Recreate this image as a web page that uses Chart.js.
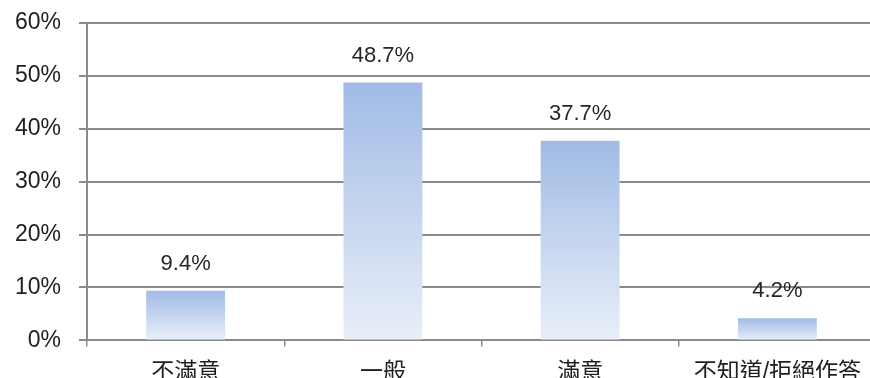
<!DOCTYPE html>
<html>
<head>
  <title>滿意度</title>
  <meta charset="utf-8">
  <script src="https://cdn.jsdelivr.net/npm/chart.js@4.4.0/dist/chart.umd.min.js"></script>
  <style>
    html, body { margin: 0; padding: 0; overflow: hidden; background: #fff; }
    #myChart { display: block; margin-top: -9px; }
  </style>
</head>
<body>
<canvas id="myChart" width="876" height="407"></canvas>
<script>
  var categories = ['不滿意', '一般', '滿意', '不知道/拒絕作答'];
  var percents = [9.4, 48.7, 37.7, 4.2];
  var yTicks = [0, 10, 20, 30, 40, 50, 60];

  var fontFamily = '"Liberation Sans", Arial, "Noto Sans CJK TC", sans-serif';
  var gridColor = '#8a8a8a';

  // gradient per bar: darker blue on top, fading to pale at the base
  function barFill(context) {
    var chart = context.chart;
    if (!chart.chartArea) return '#b7c9ea';
    var y = chart.scales.y;
    var top = y.getPixelForValue(context.raw);
    var base = y.getPixelForValue(0);
    if (base - top < 1) top = base - 1;
    var g = chart.ctx.createLinearGradient(0, top, 0, base);
    g.addColorStop(0, '#a1bbe5');
    g.addColorStop(1, '#e9eff9');
    return g;
  }

  var valueLabels = {
    id: 'valueLabels',
    afterDatasetsDraw: function(chart) {
      var ctx = chart.ctx;
      var meta = chart.getDatasetMeta(0);
      ctx.save();
      ctx.font = '22px ' + fontFamily;
      ctx.fillStyle = '#262626';
      ctx.textAlign = 'center';
      ctx.textBaseline = 'middle';
      meta.data.forEach(function(bar, i) {
        ctx.fillText(percents[i].toFixed(1) + '%', bar.x, bar.y - 27);
      });
      ctx.restore();
    }
  };

  var ctx = document.getElementById('myChart').getContext('2d');
  var chart = new Chart(ctx, {
    type: 'bar',
    data: {
      labels: categories,
      datasets: [{
        data: percents,
        backgroundColor: barFill,
        borderWidth: 0,
        barPercentage: 0.4,
        categoryPercentage: 1
      }]
    },
    options: {
      responsive: false,
      animation: false,
      layout: { padding: { left: -3, top: -3, right: 0, bottom: 0 } },
      scales: {
        x: {
          grid: {
            display: true,
            drawOnChartArea: false,
            drawTicks: true,
            tickLength: 6,
            color: gridColor,
            lineWidth: 1.5
          },
          border: { display: true, color: gridColor, width: 2 },
          ticks: {
            color: '#1e1e1e',
            font: { family: fontFamily, size: 23 },
            padding: 12,
            maxRotation: 0
          }
        },
        y: {
          min: 0,
          max: 60,
          afterBuildTicks: function(axis) {
            axis.ticks = yTicks.map(function(v) { return { value: v }; });
          },
          grid: {
            color: gridColor,
            lineWidth: 2,
            drawTicks: true,
            tickLength: 8
          },
          border: { display: true, color: gridColor, width: 2 },
          ticks: {
            color: '#1e1e1e',
            font: { family: fontFamily, size: 23 },
            padding: 18,
            callback: function(v) { return v + '%'; }
          }
        }
      },
      plugins: {
        legend: { display: false },
        tooltip: { enabled: false }
      }
    },
    plugins: [valueLabels]
  });
</script>
</body>
</html>
